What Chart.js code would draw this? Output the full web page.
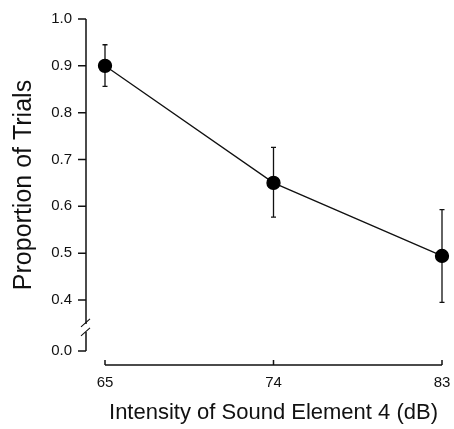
<!DOCTYPE html>
<html>
<head>
<meta charset="utf-8">
<script src="https://cdn.jsdelivr.net/npm/chart.js@4.4.0/dist/chart.umd.min.js"></script>
<style>html,body{margin:0;padding:0;background:#fff}</style>
</head>
<body>
<canvas id="chart" width="454" height="429"></canvas>
<script>
const intensities = ['65', '74', '83'];
const proportions = [0.900, 0.650, 0.494];
const errLow = [0.856, 0.577, 0.395];
const errHigh = [0.945, 0.726, 0.593];
const yTicks = [0.0, 0.4, 0.5, 0.6, 0.7, 0.8, 0.9, 1.0];

// 0.0 is drawn just under the axis break
const BREAK_FLOOR = 0.291;
const toAxis = v => v >= 0.4 ? v : BREAK_FLOOR;

const font = 'Liberation Sans, Arial, sans-serif';

const errorBars = {
  id: 'errorBars',
  beforeDatasetsDraw(chart) {
    const {ctx, scales: {x, y}} = chart;
    ctx.save();
    ctx.strokeStyle = '#111';
    ctx.lineWidth = 1.3;
    intensities.forEach((lab, i) => {
      const px = x.getPixelForValue(i);
      const top = y.getPixelForValue(errHigh[i]);
      const bot = y.getPixelForValue(errLow[i]);
      ctx.beginPath();
      ctx.moveTo(px, top); ctx.lineTo(px, bot);
      ctx.moveTo(px - 2.5, top); ctx.lineTo(px + 2.5, top);
      ctx.moveTo(px - 2.5, bot); ctx.lineTo(px + 2.5, bot);
      ctx.stroke();
    });
    ctx.restore();
  }
};

const axes = {
  id: 'axes',
  afterDraw(chart) {
    const {ctx, chartArea, scales: {x, y}} = chart;
    const ax = chartArea.left - 19;
    const ay = chartArea.bottom + 14;
    const p04 = y.getPixelForValue(0.4);
    ctx.save();
    ctx.strokeStyle = '#111';
    ctx.lineWidth = 1.5;
    ctx.beginPath();
    // y axis with break
    ctx.moveTo(ax, y.getPixelForValue(1.0));
    ctx.lineTo(ax, p04 + 24);
    ctx.moveTo(ax, p04 + 32);
    ctx.lineTo(ax, y.getPixelForValue(BREAK_FLOOR));
    yTicks.forEach(v => {
      const py = y.getPixelForValue(toAxis(v));
      ctx.moveTo(ax - 8, py); ctx.lineTo(ax, py);
    });
    // x axis
    const x0 = x.getPixelForValue(0), x1 = x.getPixelForValue(intensities.length - 1);
    ctx.moveTo(x0, ay); ctx.lineTo(x1, ay);
    intensities.forEach((lab, i) => {
      const px = x.getPixelForValue(i);
      ctx.moveTo(px, ay); ctx.lineTo(px, ay - 5);
    });
    ctx.stroke();
    // break marks
    ctx.lineWidth = 1.1;
    ctx.beginPath();
    [p04 + 23, p04 + 32].forEach(py => {
      ctx.moveTo(ax - 5, py + 4); ctx.lineTo(ax + 4, py - 4);
    });
    ctx.stroke();
    ctx.restore();
  }
};

new Chart(document.getElementById('chart'), {
  type: 'line',
  data: {
    labels: intensities,
    datasets: [{
      data: proportions,
      borderColor: '#111',
      borderWidth: 1.3,
      backgroundColor: '#000',
      pointRadius: 6.5,
      pointBackgroundColor: '#000',
      pointBorderColor: '#000',
      fill: false,
      tension: 0
    }]
  },
  options: {
    animation: false,
    responsive: false,
    layout: {padding: {left: 0, top: 19, right: 12, bottom: 0}},
    plugins: {legend: {display: false}, tooltip: {enabled: false}},
    scales: {
      x: {
        type: 'category',
        offset: false,
        grid: {display: false, drawTicks: false},
        border: {display: false},
        ticks: {color: '#111', padding: 23, font: {family: font, size: 15}, maxRotation: 0},
        title: {
          display: true,
          text: 'Intensity of Sound Element 4 (dB)',
          color: '#111',
          font: {family: font, size: 22},
          padding: {top: 0, bottom: 3}
        },
        afterFit(scale) {
          scale.height = 78;
          scale.paddingLeft = 0;
          scale.paddingRight = 0;
        }
      },
      y: {
        type: 'linear',
        min: BREAK_FLOOR,
        max: 1.0,
        grid: {display: false, drawTicks: false},
        border: {display: false},
        afterBuildTicks(scale) {
          scale.ticks = yTicks.map(v => ({value: toAxis(v)}));
        },
        ticks: {
          color: '#111',
          padding: 33,
          font: {family: font, size: 15},
          callback: (value, index) => yTicks[index].toFixed(1)
        },
        title: {
          display: true,
          text: 'Proportion of Trials',
          color: '#111',
          font: {family: font, size: 25},
          padding: {top: 9, bottom: 0}
        },
        afterFit(scale) {
          scale.width = 105;
          scale.paddingTop = 0;
          scale.paddingBottom = 0;
        }
      }
    }
  },
  plugins: [errorBars, axes]
});
</script>
</body>
</html>
